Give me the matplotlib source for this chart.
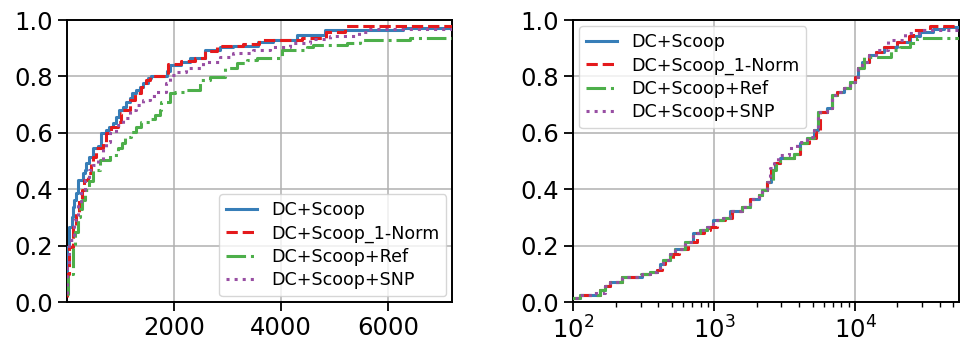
import matplotlib
matplotlib.use("Agg")
import matplotlib.pyplot as plt

labels = ["DC+Scoop", "DC+Scoop_1-Norm", "DC+Scoop+Ref", "DC+Scoop+SNP"]
colors = ["#377eb8", "#e41a1c", "#4daf4a", "#984ea3"]
styles = ["-", "--", "-.", ":"]

# ---- left panel (linear x) : CDF knots ----
left_blue_x = [3, 6, 10, 54, 104, 129, 148, 179, 210, 316, 354, 366, 428, 491, 584, 647, 740, 790, 865, 927,
               977, 1052, 1102, 1177, 1227, 1289, 1364, 1426, 1520, 1582, 1870, 1938, 2143, 2299, 2580, 2861,
               3111, 3578, 3860, 4296, 4825, 6285, 7400]
left_blue_y = [0.03, 0.12, 0.197, 0.268, 0.303, 0.339, 0.362, 0.386, 0.433, 0.457, 0.469, 0.492, 0.516,
               0.545, 0.554, 0.599, 0.610, 0.622, 0.634, 0.658, 0.681, 0.693, 0.711, 0.723, 0.740, 0.752,
               0.764, 0.776, 0.793, 0.802, 0.82, 0.841, 0.852, 0.864, 0.894, 0.903, 0.909, 0.921, 0.929,
               0.947, 0.965, 0.973, 0.973]

left_red_x = [4, 8, 54, 117, 179, 241, 291, 335, 397, 460, 491, 553, 678, 740, 834, 959, 1008, 1033, 1177,
              1270, 1395, 1489, 1564, 1900, 2143, 2400, 2580, 2800, 3300, 3600, 4400, 4850, 5200, 7400]
left_red_y = [0.02, 0.10, 0.197, 0.268, 0.315, 0.362, 0.398, 0.433, 0.457, 0.492, 0.516, 0.545, 0.569,
              0.599, 0.622, 0.640, 0.669, 0.681, 0.717, 0.740, 0.764, 0.787, 0.802, 0.845, 0.855, 0.866,
              0.89, 0.909, 0.915, 0.929, 0.935, 0.958, 0.977, 0.977]

left_green_x = [8, 30, 115, 160, 210, 250, 291, 353, 420, 491, 616, 803, 958, 1030, 1083, 1208, 1300, 1395,
                1551, 1650, 1738, 1769, 1925, 2019, 2236, 2486, 2673, 2954, 3173, 3360, 3547, 4015, 4483,
                4608, 5232, 5481, 6416, 7400]
left_green_y = [0.03, 0.10, 0.197, 0.25, 0.303, 0.33, 0.362, 0.398, 0.43, 0.469, 0.504, 0.522, 0.545,
                0.565, 0.587, 0.604, 0.62, 0.640, 0.651, 0.665, 0.681, 0.711, 0.740, 0.746, 0.752, 0.787,
                0.799, 0.829, 0.846, 0.858, 0.864, 0.894, 0.905, 0.911, 0.917, 0.929, 0.937, 0.937]

left_purple_x = [4, 10, 50, 148, 210, 272, 354, 428, 491, 585, 678, 740, 803, 927, 1052, 1177, 1300, 1427,
                 1550, 1676, 1863, 1925, 2019, 2236, 2548, 2861, 3111, 3485, 3797, 4171, 4545, 4920, 5450,
                 5600, 7400]
left_purple_y = [0.03, 0.12, 0.22, 0.292, 0.351, 0.398, 0.433, 0.469, 0.486, 0.504, 0.545, 0.569, 0.599,
                 0.628, 0.652, 0.681, 0.699, 0.716, 0.731, 0.746, 0.776, 0.805, 0.817, 0.831, 0.852, 0.870,
                 0.882, 0.894, 0.903, 0.917, 0.932, 0.944, 0.956, 0.967, 0.967]

# ---- right panel (log x) : CDF knots ----
right_blue_x = [90, 112, 155, 168, 182, 221, 306, 351, 390, 413, 436, 487, 528, 622, 710, 795, 887, 989,
                1164, 1300, 1573, 1803, 2066, 2183, 2370, 2530, 2714, 2945, 3664, 4083, 4560, 5081, 5427,
                6323, 6867, 7451, 8304, 9268, 10050, 10500, 11200, 12500, 14000, 16000, 20000, 24700,
                29000, 36000, 43000, 60000]
right_blue_y = [0.016, 0.026, 0.044, 0.056, 0.073, 0.090, 0.102, 0.108, 0.114, 0.137, 0.149, 0.172, 0.190,
                0.214, 0.244, 0.256, 0.268, 0.291, 0.297, 0.325, 0.338, 0.365, 0.380, 0.398, 0.427, 0.468,
                0.492, 0.510, 0.527, 0.563, 0.581, 0.610, 0.675, 0.687, 0.734, 0.746, 0.758, 0.781, 0.799,
                0.83, 0.852, 0.876, 0.888, 0.905, 0.923, 0.944, 0.958, 0.968, 0.974, 0.974]

right_red_x = [90, 112, 155, 168, 182, 221, 306, 351, 390, 425, 450, 510, 560, 650, 760, 850, 940, 1050,
               1200, 1340, 1573, 1803, 2066, 2183, 2370, 2530, 2714, 2945, 3664, 4083, 4700, 5300, 5600,
               6323, 6867, 7451, 8304, 9268, 10050, 10500, 11200, 12500, 14000, 16000, 20000, 24000,
               26000, 34000, 60000]
right_red_y = [0.016, 0.026, 0.044, 0.056, 0.073, 0.090, 0.102, 0.108, 0.114, 0.137, 0.149, 0.172, 0.190,
               0.214, 0.244, 0.256, 0.268, 0.291, 0.297, 0.325, 0.338, 0.365, 0.380, 0.398, 0.427, 0.468,
               0.492, 0.510, 0.527, 0.563, 0.581, 0.610, 0.675, 0.687, 0.734, 0.746, 0.758, 0.781, 0.799,
               0.83, 0.852, 0.876, 0.888, 0.905, 0.923, 0.944, 0.964, 0.978, 0.978]

right_green_x = [90, 112, 155, 168, 182, 221, 300, 351, 390, 413, 436, 487, 528, 622, 710, 795, 887, 989,
                 1164, 1300, 1573, 1803, 2066, 2183, 2370, 2600, 2750, 2945, 3664, 4083, 4560, 5081, 5427,
                 6323, 6867, 7451, 8304, 9268, 10050, 10500, 11500, 17900, 21000, 24700, 27700, 60000]
right_green_y = [0.016, 0.026, 0.044, 0.056, 0.073, 0.090, 0.102, 0.108, 0.114, 0.137, 0.149, 0.172, 0.190,
                 0.214, 0.244, 0.256, 0.268, 0.291, 0.297, 0.325, 0.338, 0.365, 0.380, 0.398, 0.427, 0.468,
                 0.492, 0.510, 0.527, 0.563, 0.581, 0.610, 0.675, 0.687, 0.734, 0.746, 0.758, 0.781, 0.799,
                 0.83, 0.870, 0.893, 0.905, 0.917, 0.935, 0.935]

right_purple_x = [90, 112, 138, 168, 182, 221, 306, 351, 390, 413, 436, 487, 528, 622, 710, 795, 887, 989,
                  1164, 1300, 1573, 1803, 2066, 2183, 2370, 2500, 2650, 2850, 3400, 3900, 4560, 5081, 5427,
                  6323, 6867, 7451, 8304, 9268, 10050, 10500, 11200, 12500, 14000, 17200, 22800, 30000, 60000]
right_purple_y = [0.016, 0.026, 0.032, 0.056, 0.073, 0.090, 0.102, 0.108, 0.114, 0.137, 0.149, 0.172, 0.190,
                  0.214, 0.244, 0.256, 0.268, 0.291, 0.297, 0.325, 0.338, 0.365, 0.380, 0.398, 0.427, 0.475,
                  0.502, 0.522, 0.545, 0.567, 0.585, 0.610, 0.675, 0.687, 0.734, 0.746, 0.758, 0.781, 0.799,
                  0.83, 0.852, 0.876, 0.895, 0.929, 0.955, 0.966, 0.966]

left_series = [(left_blue_x, left_blue_y), (left_red_x, left_red_y),
               (left_green_x, left_green_y), (left_purple_x, left_purple_y)]
right_series = [(right_blue_x, right_blue_y), (right_red_x, right_red_y),
                (right_green_x, right_green_y), (right_purple_x, right_purple_y)]

yticks = [0.0, 0.2, 0.4, 0.6, 0.8, 1.0]

W, H = 968, 347
fig = plt.figure(figsize=(W / 100, H / 100), dpi=100)
ax1 = fig.add_axes([66.8 / W, 1 - 302.3 / H, 385.5 / W, 282.3 / H])
ax2 = fig.add_axes([573.3 / W, 1 - 302.3 / H, 386.0 / W, 282.3 / H])

for ax, series in ((ax1, left_series), (ax2, right_series)):
    for (xs, ys), lab, c, ls in zip(series, labels, colors, styles):
        ax.step(xs, ys, where="post", color=c, linestyle=ls, linewidth=2.2, label=lab, zorder=3)
    ax.set_ylim(0, 1)
    ax.set_yticks(yticks)
    ax.grid(True, color="#b0b0b0", linewidth=1.1, zorder=0)
    ax.set_axisbelow(True)
    for sp in ax.spines.values():
        sp.set_linewidth(1.4)
        sp.set_color("black")
    ax.tick_params(axis="both", which="major", labelsize=17.5, length=6.5, width=1.3)
    ax.tick_params(axis="both", which="minor", length=3.6, width=1.0)

ax1.set_xlim(5, 7200)
ax1.set_xticks([2000, 4000, 6000])
ax2.set_xscale("log")
ax2.set_xlim(100, 55000)

leg_kw = dict(fontsize=12.6, handlelength=1.75, labelspacing=0.3, borderpad=0.4,
              framealpha=0.8, edgecolor="#cccccc", fancybox=True)
ax1.legend(loc="lower right", borderaxespad=0.35, **leg_kw)
ax2.legend(loc="upper left", borderaxespad=0.35, **leg_kw)

fig.savefig("out.png", dpi=100)
